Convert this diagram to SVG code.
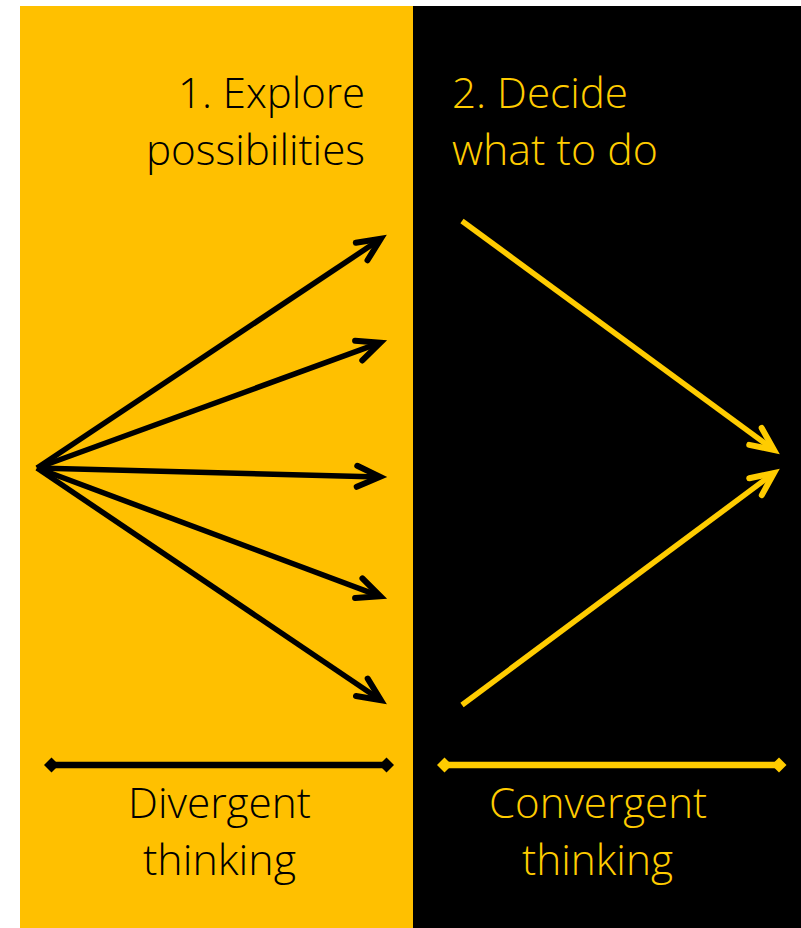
<svg xmlns="http://www.w3.org/2000/svg" width="801" height="928" viewBox="0 0 801 928">
  <style>
    .t { font-family: "Open Sans", "Liberation Sans", sans-serif; font-weight: 300; font-size: 42px; }
    .dark { fill: #000000; }
    .gold { fill: #FFCC00; }
    .la { stroke: #000000; stroke-width: 5.5; fill: none; }
    .ra { stroke: #FFCC00; stroke-width: 5.5; fill: none; }
    .bar { stroke-width: 6.5; }
  </style>
  <defs>
    <marker id="ahBlack" markerUnits="userSpaceOnUse" markerWidth="40" markerHeight="40" refX="30" refY="15" orient="auto" overflow="visible">
      <path d="M 7 4.5 L 30 15 L 7 25.5" fill="none" stroke="#000000" stroke-width="6" stroke-linecap="round" stroke-linejoin="miter"/>
    </marker>
    <marker id="ahGold" markerUnits="userSpaceOnUse" markerWidth="40" markerHeight="40" refX="30" refY="15" orient="auto" overflow="visible">
      <path d="M 7 4.5 L 30 15 L 7 25.5" fill="none" stroke="#FFCC00" stroke-width="6" stroke-linecap="round" stroke-linejoin="miter"/>
    </marker>
    <marker id="dmBlack" markerUnits="userSpaceOnUse" markerWidth="20" markerHeight="20" refX="10" refY="10" orient="auto" overflow="visible">
      <path d="M 2.5 10 L 10 2.5 L 17.5 10 L 10 17.5 Z" fill="#000000"/>
    </marker>
    <marker id="dmGold" markerUnits="userSpaceOnUse" markerWidth="20" markerHeight="20" refX="10" refY="10" orient="auto" overflow="visible">
      <path d="M 2.5 10 L 10 2.5 L 17.5 10 L 10 17.5 Z" fill="#FFCC00"/>
    </marker>
  </defs>

  <rect x="0" y="0" width="801" height="928" fill="#FFFFFF"/>

  <g id="panel-divergent">
    <rect x="20" y="6" width="393" height="922" fill="#FFC000"/>
    <text class="t dark" x="178" y="108" textLength="187" lengthAdjust="spacingAndGlyphs">1. Explore</text>
    <text class="t dark" x="146" y="165" textLength="219" lengthAdjust="spacingAndGlyphs">possibilities</text>
    <text class="t dark" x="128" y="818" textLength="183" lengthAdjust="spacingAndGlyphs">Divergent</text>
    <text class="t dark" x="143" y="875" textLength="153" lengthAdjust="spacingAndGlyphs">thinking</text>
  </g>

  <g id="panel-convergent">
    <rect x="413" y="6" width="388" height="922" fill="#000000"/>
    <text class="t gold" x="452" y="108" textLength="176" lengthAdjust="spacingAndGlyphs">2. Decide</text>
    <text class="t gold" x="452" y="165" textLength="206" lengthAdjust="spacingAndGlyphs">what to do</text>
    <text class="t gold" x="489" y="818" textLength="218" lengthAdjust="spacingAndGlyphs">Convergent</text>
    <text class="t gold" x="522" y="875" textLength="151" lengthAdjust="spacingAndGlyphs">thinking</text>
  </g>

  <g id="connectors">
    <line class="la" x1="37" y1="468" x2="380.8" y2="238.8" marker-end="url(#ahBlack)"/>
    <line class="la" x1="37" y1="468" x2="380.3" y2="342.7" marker-end="url(#ahBlack)"/>
    <line class="la" x1="37" y1="468" x2="380" y2="476.9" marker-end="url(#ahBlack)"/>
    <line class="la" x1="37" y1="468" x2="380.3" y2="596.3" marker-end="url(#ahBlack)"/>
    <line class="la" x1="37" y1="468" x2="380.9" y2="700.2" marker-end="url(#ahBlack)"/>
    <line class="ra" x1="462" y1="221" x2="774" y2="450" marker-end="url(#ahGold)"/>
    <line class="ra" x1="462" y1="705" x2="774" y2="473" marker-end="url(#ahGold)"/>
    <line class="la bar" x1="51.5" y1="765" x2="386.5" y2="765" marker-start="url(#dmBlack)" marker-end="url(#dmBlack)"/>
    <line class="ra bar" x1="444.5" y1="765" x2="779" y2="765" marker-start="url(#dmGold)" marker-end="url(#dmGold)"/>
  </g>
</svg>
